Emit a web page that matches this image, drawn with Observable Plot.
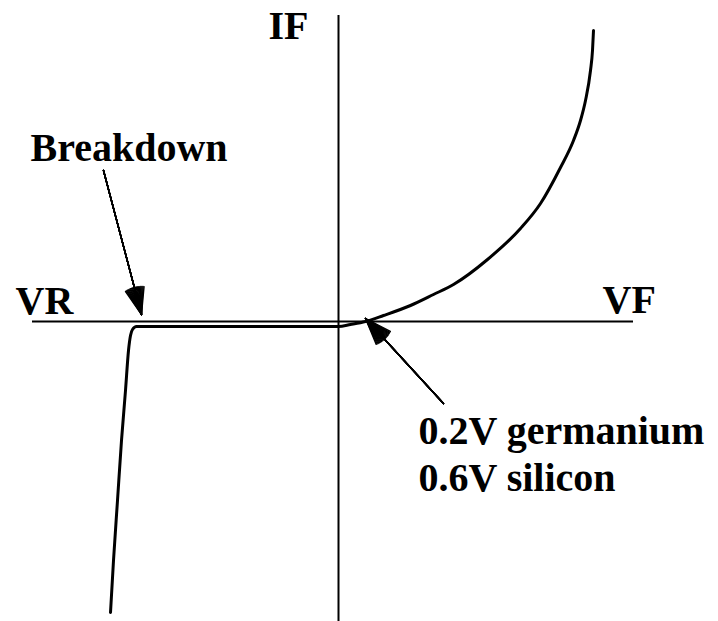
<!DOCTYPE html>
<html>
<head>
<meta charset="utf-8">
<script src="https://cdn.jsdelivr.net/npm/d3@7"></script>
<script src="https://cdn.jsdelivr.net/npm/@observablehq/plot@0.6"></script>
<style>
  html, body { margin: 0; padding: 0; background: #fff; }
  svg { display: block; }
</style>
</head>
<body>
<div id="chart"></div>
<script>
// Diode characteristic curve (arbitrary units: voltage V, current I)
const curveV = [-22.8, -22.5, -22.1, -21.7, -21.3, -21.0, -20.8, -20.6, -20.2, 0.0, 1.2, 2.7, 4.5, 7.2, 9.5, 11.5, 14.9, 18.2, 20.2, 22.2, 23.5, 24.2, 24.7, 25.2, 25.4, 25.5];
const curveI = [-29.1, -23.9, -17.9, -11.9, -6.9, -2.9, -1.4, -0.8, -0.5, -0.5, -0.3, 0.0, 0.6, 1.6, 2.7, 3.7, 6.2, 9.3, 11.8, 15.4, 18.1, 20.1, 22.1, 25.1, 27.1, 29.1];

// Axis extents
const axisVExtent = [-30.6, 29.5];
const axisIExtent = [-30.0, 30.6];

// Annotation arrows: [fromV, fromI, toV, toI]
const arrowFromV = [-23.5, 10.5];
const arrowFromI = [15.1, -8.2];
const arrowToV = [-19.7, 2.7];
const arrowToI = [0.7, 0.3];

// Text labels
const labelText = ["IF", "VR", "VF", "Breakdown", "0.2V germanium", "0.6V silicon"];
const labelV = [-7.0, -32.3, 26.4, -30.8, 8.0, 8.0];
const labelI = [28.3, 0.8, 0.9, 16.1, -12.2, -16.9];

const curve = curveV.map((v, i) => ({V: v, I: curveI[i]}));
const labels = labelText.map((t, i) => ({text: t, V: labelV[i], I: labelI[i]}));
const arrows = arrowFromV.map((v, i) => ({x1: v, y1: arrowFromI[i], x2: arrowToV[i], y2: arrowToI[i]}));

// several arrows with growing head angles fill the arrowhead wedge
const headAngles = [4, 8, 12, 16, 20, 24, 28, 32, 36, 40];
const arrowMarks = headAngles.map(a =>
  Plot.arrow(arrows, {x1: "x1", y1: "y1", x2: "x2", y2: "y2", stroke: "#000", strokeWidth: 1.4,
    headLength: 30, headAngle: a, insetEnd: 0})
);

const chart = Plot.plot({
  width: 718,
  height: 621,
  margin: 0,
  x: {domain: [-33.8, 38.0], axis: null},
  y: {domain: [-30.0, 32.1], axis: null},
  style: {background: "#fff"},
  marks: [
    Plot.ruleY([0], {x1: axisVExtent[0], x2: axisVExtent[1], stroke: "#000", strokeWidth: 2}),
    Plot.ruleX([0], {y1: axisIExtent[0], y2: axisIExtent[1], stroke: "#000", strokeWidth: 2}),
    Plot.line(curve, {x: "V", y: "I", curve: "monotone-x", stroke: "#000", strokeWidth: 3}),
    ...arrowMarks,
    Plot.text(labels, {x: "V", y: "I", text: "text", textAnchor: "start", lineAnchor: "bottom",
      fontFamily: "Liberation Serif", fontWeight: "bold", fontSize: 40, fill: "#000"})
  ]
});
document.getElementById("chart").appendChild(chart);
</script>
</body>
</html>
